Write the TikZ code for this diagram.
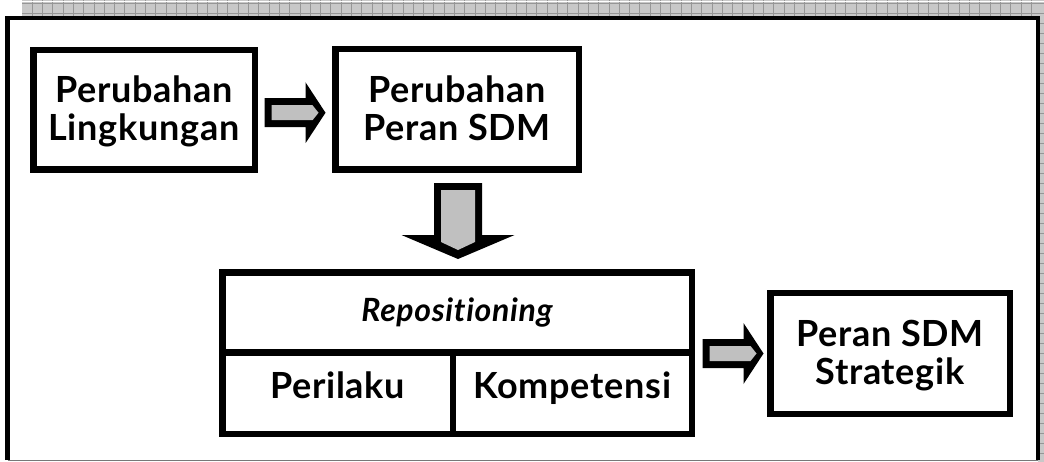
\documentclass[tikz,border=0pt]{standalone}
\usepackage{fontspec}
\setmainfont{Lato}[Ligatures=NoCommon, LetterSpace=2]
\usetikzlibrary{calc}

\definecolor{arrowgrey}{RGB}{192,192,192}
\definecolor{hatchgrey}{RGB}{200,200,200}
\definecolor{hatchline}{RGB}{150,150,150}
\definecolor{rimgrey}{RGB}{120,120,120}

\tikzset{
  boxfont/.style={font=\fontsize{36}{38}\selectfont\bfseries},
  box/.style={draw=black, line width=6.5pt, fill=white, inner sep=0pt,
    outer sep=0pt, align=center, boxfont},
  twoline/.style={box, text height=72pt, text depth=10pt},
  cell/.style={box},
  % thick block arrow pointing right, drawn about its centre
  rightarrow/.pic={
    \fill[black] (-30.5,-14.5) -- (10.5,-14.5) -- (10.5,-30.5) -- (30.5,0)
      -- (10.5,30.5) -- (10.5,14.5) -- (-30.5,14.5) -- cycle;
    \fill[arrowgrey] (-23.5,-7.5) -- (17.5,-7.5) -- (23.5,0) -- (17.5,7.5)
      -- (-23.5,7.5) -- cycle;
  },
  % wide block arrow pointing down, drawn about its centre
  downarrow/.pic={
    \fill[black] (-24,-38) -- (24,-38) -- (24,14) -- (56.5,14) -- (0,38)
      -- (-56.5,14) -- (-24,14) -- cycle;
    \fill[arrowgrey] (-17,-31) -- (17,-31) -- (17,21) -- (0,29) -- (-17,21) -- cycle;
  },
}

\begin{document}
\begin{tikzpicture}[x=1pt, y=-1pt]
\useasboundingbox (0,0) rectangle (1044,462);

% textured shadow band along the top and the right edge
\fill[hatchgrey] (22,0) rectangle (1044,16);
\fill[hatchgrey] (1038,0) rectangle (1044,462);
\foreach \gx in {32,42.3,...,1040} \draw[hatchline, line width=0.6pt] (\gx,0) -- (\gx,16);
\foreach \gy in {3.5,13.5} \draw[hatchline, line width=0.6pt] (22,\gy) -- (1044,\gy);
\foreach \gy in {23.5,33.5,...,462} \draw[hatchline, line width=0.6pt] (1040,\gy) -- (1044,\gy);
\draw[white, line width=0.8pt] (22,1.2) -- (1044,1.2);

% outer frame
\fill[white] (7.5,18) rectangle (1038,460);
\draw[black, line width=4.5pt] (7.5,460) -- (7.5,18) -- (1038,18) -- (1038,460);
\draw[rimgrey, line width=1pt] (7.5,460.5) -- (1038,460.5);

% boxes
\node[twoline, minimum width=221.5pt, minimum height=119.5pt]
  (env) at (144,110) {Perubahan\\Lingkungan};
\node[twoline, minimum width=243.5pt, minimum height=120.5pt]
  (role) at (457,109.5) {Perubahan\\Peran SDM};
\node[twoline, minimum width=239.5pt, minimum height=120.5pt]
  (strat) at (890,353.5) {Peran SDM\\Strategik};

% repositioning table
\node[cell, minimum width=469.5pt, minimum height=80.25pt,
  font=\fontsize{32}{38}\selectfont\bfseries\itshape, text height=26pt, text depth=7pt]
  (repo) at (457,312.4) {Repositioning};
\node[cell, anchor=north west, minimum width=230.75pt, minimum height=81.25pt,
  text height=20pt, text depth=10pt] (beh) at (repo.south west) {Perilaku};
\node[cell, anchor=north east, minimum width=238.75pt, minimum height=81.25pt,
  text height=20pt, text depth=10pt] (comp) at (repo.south east) {Kompetensi};

% block arrows between the boxes
\coordinate (m1) at ($(env.east)!0.5!(role.west)+(0,3)$);
\coordinate (m2) at ($(role.south)!0.5!(repo.north)+(1,0)$);
\coordinate (m3) at ($(comp.east |- strat.west)!0.5!(strat.west)+(2,0)$);
\pic at (m1) {rightarrow};
\pic at (m2) {downarrow};
\pic at (m3) {rightarrow};
\end{tikzpicture}
\end{document}
